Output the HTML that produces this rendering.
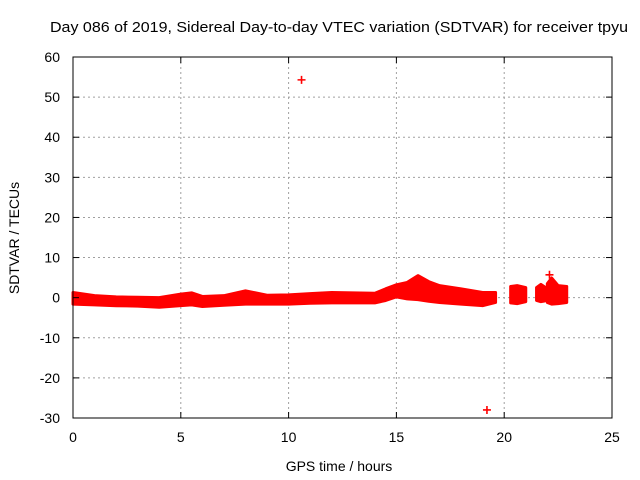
<!DOCTYPE html>
<html><head><meta charset="utf-8"><style>
body{margin:0;background:#fff}
svg{display:block;font-family:"Liberation Sans",sans-serif}
</style></head><body>
<svg id="c" width="640" height="480">
<text x="50" y="32" font-size="15" textLength="578" lengthAdjust="spacingAndGlyphs">Day 086 of 2019, Sidereal Day-to-day VTEC variation (SDTVAR) for receiver tpyu</text>
<text x="339" y="471" font-size="14" text-anchor="middle">GPS time / hours</text>
<text transform="translate(19,238) rotate(-90)" font-size="14" text-anchor="middle">SDTVAR / TECUs</text>
<g id="grid"></g><g id="marks"></g><g id="ticks"></g>
</svg>
<script>
const xTicks=[0,5,10,15,20,25];
const yTicks=[-30,-20,-10,0,10,20,30,40,50,60];
const segments=[
 {t:[0,1,2,3,4,5,5.5,6,7,8,9,10,11,12,13,14,14.5,15,15.5,16,16.5,17,18,19,19.6],
  hi:[1.3,0.5,0.2,0.1,0,0.9,1.2,0.3,0.5,1.7,0.6,0.7,1.0,1.3,1.2,1.1,2.2,3.2,3.8,5.5,4.0,3.0,2.2,1.3,1.3],
  lo:[-1.6,-1.8,-2,-2.1,-2.4,-2,-1.8,-2.2,-1.9,-1.6,-1.6,-1.6,-1.4,-1.3,-1.3,-1.3,-0.7,0.2,-0.3,-0.5,-0.9,-1.2,-1.6,-2,-1.2]},
 {t:[20.3,20.6,21.0],hi:[2.8,3.0,2.5],lo:[-1.3,-1.5,-1.0]},
 {t:[21.5,21.7,21.9],hi:[2.5,3.3,2.6],lo:[-0.7,-1.0,-0.8]},
 {t:[22.0,22.2,22.5,22.9],hi:[3.5,4.9,3.0,2.8],lo:[-1.2,-1.6,-1.5,-1.2]}
];
const outT=[10.6,19.2,22.1];
const outV=[54.3,-28,5.7];
const X0=73,X1=612,Y0=418,Y1=57;
const xs=t=>X0+(t-0)/(25-0)*(X1-X0);
const ys=v=>Y0-(v+30)/90*(Y0-Y1);
const NS="http://www.w3.org/2000/svg";
function mk(tag,at,parent){const e=document.createElementNS(NS,tag);for(const k in at)e.setAttribute(k,at[k]);parent.appendChild(e);return e;}
const grid=document.getElementById('grid'),marks=document.getElementById('marks'),ticks=document.getElementById('ticks');
xTicks.forEach(t=>{
 if(t>0&&t<25){const g=mk('line',{x1:xs(t),x2:xs(t),y1:Y1,y2:Y0,stroke:'#a0a0a0','stroke-dasharray':'2,3'},grid);
 
 }
 const l=mk('text',{x:xs(t),y:Y0+24,'font-size':14,'text-anchor':'middle'},ticks);l.textContent=t;
 
 
 mk('line',{x1:xs(t),x2:xs(t),y1:Y0,y2:Y0-6,stroke:'#000'},ticks);
 mk('line',{x1:xs(t),x2:xs(t),y1:Y1,y2:Y1+6,stroke:'#000'},ticks);
});
yTicks.forEach(v=>{
 if(v>-30&&v<60){const g=mk('line',{x1:X0,x2:X1,y1:ys(v),y2:ys(v),stroke:'#a0a0a0','stroke-dasharray':'2,3'},grid);
 
 }
 const l=mk('text',{x:X0-13,y:ys(v)+5,'font-size':14,'text-anchor':'end'},ticks);l.textContent=v;
 
 
 mk('line',{x1:X0,x2:X0+6,y1:ys(v),y2:ys(v),stroke:'#000'},ticks);
 mk('line',{x1:X1,x2:X1-6,y1:ys(v),y2:ys(v),stroke:'#000'},ticks);
});
const fr=mk('rect',{x:X0,y:Y1,width:X1-X0,height:Y0-Y1,fill:'none',stroke:'#000'},ticks);


segments.forEach(s=>{
 let pts=s.t.map((t,i)=>xs(t)+','+ys(s.hi[i]));
 for(let i=s.t.length-1;i>=0;i--)pts.push(xs(s.t[i])+','+ys(s.lo[i]));
 const p=mk('polygon',{points:pts.join(' '),fill:'#ff0000',stroke:'#ff0000','stroke-width':3,'stroke-linejoin':'round'},marks);
 
 
});
outT.forEach((t,i)=>{
 const x=xs(t),y=ys(outV[i]);
 const p=mk('path',{d:`M${x-4},${y}H${x+4}M${x},${y-4}V${y+4}`,stroke:'#ff0000','stroke-width':1.6},marks);
 
 
});
</script>
</body></html>
